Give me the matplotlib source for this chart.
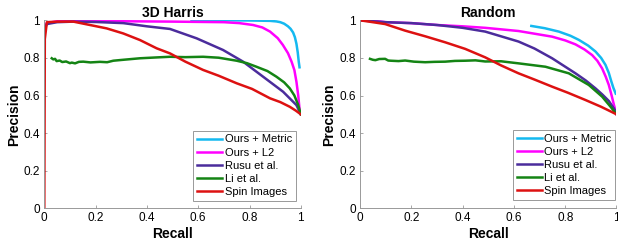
import matplotlib.pyplot as plt
from matplotlib.ticker import FormatStrFormatter

plt.rcParams['font.family'] = ['Liberation Sans', 'DejaVu Sans']

labels = ["Ours + Metric", "Ours + L2", "Rusu et al.", "Li et al.", "Spin Images"]
colors = ["#14B9F0", "#FF00FF", "#4B2C9C", "#148414", "#DD1111"]
titles = ["3D Harris", "Random"]

# 3D Harris
harris_metric_x = [0.574, 0.70, 0.80, 0.88, 0.905, 0.92, 0.935, 0.95, 0.96, 0.97, 0.977, 0.983, 0.988, 0.992, 0.995]
harris_metric_y = [1.0, 1.0, 0.999, 0.997, 0.994, 0.99, 0.982, 0.968, 0.955, 0.935, 0.91, 0.875, 0.83, 0.78, 0.75]
harris_l2_x = [0, 0.003, 0.01, 0.05, 0.1, 0.3, 0.5, 0.7, 0.76, 0.814, 0.85, 0.88, 0.91, 0.93, 0.95, 0.964,
               0.975, 0.983, 0.99, 0.996, 1.0]
harris_l2_y = [0.9, 0.97, 0.985, 0.995, 0.998, 0.995, 0.993, 0.99, 0.985, 0.975, 0.962, 0.94, 0.905, 0.869, 0.825,
               0.78, 0.735, 0.673, 0.6, 0.514, 0.5]
harris_rusu_x = [0, 0.003, 0.01, 0.05, 0.113, 0.2, 0.308, 0.4, 0.49, 0.594, 0.697, 0.775, 0.853, 0.931, 0.983, 1.0]
harris_rusu_y = [0.9, 0.96, 0.98, 0.99, 0.993, 0.991, 0.985, 0.968, 0.954, 0.904, 0.842, 0.78, 0.70, 0.62, 0.549, 0.5]
harris_li_x = [0.029, 0.035, 0.042, 0.048, 0.06, 0.07, 0.085, 0.1, 0.107, 0.12, 0.135, 0.152, 0.18, 0.217,
               0.245, 0.269, 0.3, 0.373, 0.43, 0.49, 0.55, 0.619, 0.68, 0.75, 0.79, 0.827, 0.87, 0.905, 0.935,
               0.957, 0.975, 0.99, 1.0]
harris_li_y = [0.798, 0.792, 0.795, 0.783, 0.786, 0.778, 0.781, 0.772, 0.775, 0.771, 0.779, 0.78, 0.776, 0.779,
               0.777, 0.785, 0.789, 0.798, 0.802, 0.806, 0.804, 0.806, 0.801, 0.785, 0.772, 0.753, 0.73, 0.70,
               0.67, 0.638, 0.6, 0.549, 0.5]
harris_spin_x = [0, 0.002, 0.01, 0.05, 0.113, 0.178, 0.243, 0.308, 0.373, 0.438, 0.49, 0.55, 0.619, 0.68,
                 0.75, 0.81, 0.88, 0.92, 0.957, 0.98, 1.0]
harris_spin_y = [0, 0.9, 0.99, 0.993, 0.993, 0.975, 0.957, 0.93, 0.895, 0.851, 0.824, 0.78, 0.736, 0.705,
                 0.665, 0.635, 0.585, 0.565, 0.54, 0.52, 0.5]

# Random
random_metric_x = [0.668, 0.72, 0.775, 0.82, 0.853, 0.89, 0.918, 0.94, 0.957, 0.97, 0.98, 0.988, 0.997]
random_metric_y = [0.97, 0.958, 0.94, 0.918, 0.896, 0.865, 0.834, 0.80, 0.763, 0.72, 0.674, 0.64, 0.61]
random_l2_x = [0, 0.05, 0.1, 0.2, 0.3, 0.4, 0.488, 0.618, 0.749, 0.8, 0.84, 0.875, 0.905, 0.925, 0.944,
               0.958, 0.97, 0.981, 0.99, 1.0]
random_l2_y = [1.0, 0.998, 0.99, 0.985, 0.975, 0.968, 0.96, 0.943, 0.913, 0.893, 0.872, 0.845, 0.815, 0.785,
               0.744, 0.70, 0.656, 0.60, 0.55, 0.5]
random_rusu_x = [0, 0.1, 0.2, 0.3, 0.4, 0.488, 0.618, 0.68, 0.749, 0.84, 0.88, 0.918, 0.945, 0.97, 1.0]
random_rusu_y = [1.0, 0.99, 0.985, 0.975, 0.96, 0.94, 0.887, 0.85, 0.798, 0.718, 0.68, 0.638, 0.605, 0.571, 0.51]
random_li_x = [0.039, 0.05, 0.06, 0.075, 0.098, 0.11, 0.12, 0.15, 0.176, 0.21, 0.254, 0.29, 0.332, 0.37,
               0.41, 0.45, 0.488, 0.55, 0.618, 0.723, 0.814, 0.892, 0.944, 0.977, 1.0]
random_li_y = [0.795, 0.79, 0.788, 0.794, 0.795, 0.786, 0.785, 0.783, 0.786, 0.78, 0.777, 0.779, 0.78, 0.784,
               0.785, 0.787, 0.781, 0.782, 0.771, 0.753, 0.718, 0.656, 0.594, 0.54, 0.5]
random_spin_x = [0, 0.05, 0.098, 0.176, 0.254, 0.332, 0.41, 0.488, 0.55, 0.618, 0.68, 0.749, 0.81, 0.879,
                 0.94, 1.0]
random_spin_y = [1.0, 0.99, 0.98, 0.945, 0.915, 0.883, 0.848, 0.803, 0.76, 0.718, 0.685, 0.647, 0.615, 0.576,
                 0.54, 0.5]

panels = [
    [(harris_metric_x, harris_metric_y), (harris_l2_x, harris_l2_y), (harris_rusu_x, harris_rusu_y),
     (harris_li_x, harris_li_y), (harris_spin_x, harris_spin_y)],
    [(random_metric_x, random_metric_y), (random_l2_x, random_l2_y), (random_rusu_x, random_rusu_y),
     (random_li_x, random_li_y), (random_spin_x, random_spin_y)],
]

fig = plt.figure(figsize=(6.18, 2.49), dpi=100)
lefts = [44.3 / 618, 360 / 618]
legend_anchor = [(0.98, 0.04), (0.996, 0.044)]

for k in range(2):
    ax = fig.add_axes([lefts[k], 1 - 208.3 / 249, 256.5 / 618, 188 / 249])
    for (x, y), c, lab in zip(panels[k], colors, labels):
        ax.plot(x, y, color=c, lw=1.8, label=lab, solid_joinstyle='round')
    ax.set_xlim(0, 1)
    ax.set_ylim(0, 1)
    ax.set_xticks([0, 0.2, 0.4, 0.6, 0.8, 1])
    ax.set_yticks([0, 0.2, 0.4, 0.6, 0.8, 1])
    ax.xaxis.set_major_formatter(FormatStrFormatter('%g'))
    ax.yaxis.set_major_formatter(FormatStrFormatter('%g'))
    ax.tick_params(direction='in', length=2.5, width=0.6, color='#999999', labelsize=8.5, pad=3)
    for s in ['top', 'right']:
        ax.spines[s].set_visible(False)
    for s in ['left', 'bottom']:
        ax.spines[s].set_color('#999999')
        ax.spines[s].set_linewidth(0.7)
    ax.set_xlabel("Recall", fontsize=10, fontweight='bold', labelpad=2)
    ax.set_ylabel("Precision", fontsize=10, fontweight='bold', labelpad=2)
    ax.set_title(titles[k], fontsize=10, fontweight='bold', pad=2)
    leg = ax.legend(loc='lower right', bbox_to_anchor=legend_anchor[k], fontsize=8,
                    fancybox=False, framealpha=1, edgecolor='#999999', borderpad=0.35,
                    labelspacing=0.28, handlelength=2.3, handletextpad=0.2, borderaxespad=0)
    leg.get_frame().set_linewidth(0.7)

fig.savefig("out.png", dpi=100)
